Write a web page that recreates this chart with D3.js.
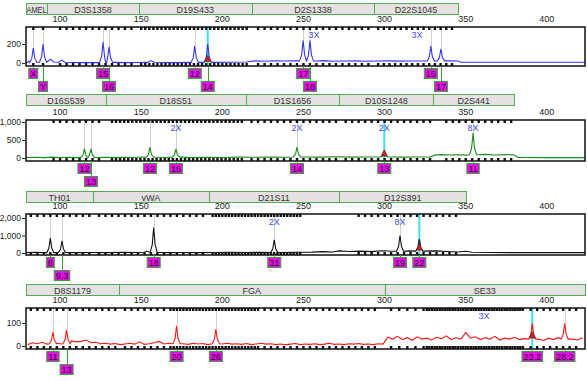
<!DOCTYPE html>
<html lang="en">
<head>
<meta charset="UTF-8">
<title>STR profile</title>
<script src="https://d3js.org/d3.v7.min.js"></script>
<style>
  body { margin: 0; background: #fff; }
  svg text { font-family: "Liberation Sans", Arial, sans-serif; }
</style>
</head>
<body>
<div id="my_dataviz"></div>
<script>
var sizeTicks = [100, 150, 200, 250, 300, 350, 400];

// blue dye
var loci1 = [["AMEL", 79, 92], ["D3S1358", 92, 148.6], ["D19S433", 148.6, 218], ["D2S1338", 218, 293.7], ["D22S1045", 293.7, 345]];
var peaks1 = [[83.5, 158, "X", 1], [89.5, 200, "Y", 2], [126.5, 220, "15", 1], [130.2, 170, "16", 2], [183, 180, "12", 1], [191, 200, "14", 2], [249.8, 240, "17", 1], [254, 240, "18", 2], [328.5, 180, "15", 1], [334.7, 150, "17", 2]];
var base1 = [[79, 0], [81, 18], [85, 5], [88, 8], [92, 10], [94, 40], [96, 10], [99, 8], [101, 30], [103, 8], [108, 5], [115, 4], [120, 5], [124, 4], [133, 6], [140, 4], [148, 5], [154, 6], [156, 25], [158, 8], [165, 5], [172, 4], [180, 6], [186, 8], [195, 6], [205, 8], [215, 10], [220, 22], [226, 18], [232, 24], [238, 20], [244, 22], [258, 20], [263, 25], [268, 18], [275, 20], [282, 22], [288, 18], [295, 20], [302, 22], [308, 19], [315, 21], [322, 20], [340, 22], [345, 20], [347, 8], [360, 7], [380, 7], [400, 7], [423.5, 7]];
var marks1 = [[256.5, "3X"], [320, "3X"]];
var bins1 = [[83.5, 89.5, 6], [100, 146, 4], [150, 216, 2.5], [222, 290, 4], [296, 342, 3.5]];
var yTicks1 = [0, 200];

// green dye
var loci2 = [["D16S539", 79, 128.3], ["D18S51", 128.3, 214.4], ["D1S1656", 214.4, 272.2], ["D10S1248", 272.2, 330], ["D2S441", 330, 380]];
var peaks2 = [[115, 250, "12", 1], [119, 250, "13", 2], [155.4, 300, "12", 1], [171.4, 250, "16", 1], [246, 300, "14", 1], [299.8, 150, "13", 1], [354.5, 690, "11", 1]];
var base2 = [[79, 10], [85, 20], [90, 10], [95, 25], [100, 15], [105, 20], [110, 10], [122, 15], [128, 20], [135, 10], [140, 20], [145, 15], [150, 30], [160, 20], [165, 15], [175, 25], [180, 10], [190, 20], [200, 15], [210, 25], [220, 20], [230, 30], [240, 20], [250, 30], [260, 25], [270, 35], [280, 25], [290, 30], [305, 30], [310, 25], [320, 30], [328, 30], [331, 80], [335, 95], [340, 85], [345, 90], [350, 80], [358, 90], [362, 100], [368, 85], [375, 95], [380, 85], [382, 15], [400, 10], [423.5, 10]];
var marks2 = [[171.4, "2X"], [246, "2X"], [299.8, "2X"], [354.5, "8X"]];
var bins2 = [[96, 126, 4], [132, 212, 2.5], [218, 270, 4], [276, 328, 4], [338, 378, 4]];
var yTicks2 = [0, 500, 1000];

// black dye
var loci3 = [["TH01", 79, 120.3], ["vWA", 120.3, 191.6], ["D21S11", 191.6, 272], ["D12S391", 272, 350.3]];
var peaks3 = [[94, 850, "8", 1], [101.2, 700, "9.3", 2], [157.7, 1450, "18", 1], [232, 750, "31", 1], [309.5, 1000, "19", 1], [321.4, 800, "22", 1]];
var base3 = [[79, 20], [85, 40], [90, 20], [100, 30], [110, 20], [120, 30], [130, 20], [140, 40], [148, 30], [152, 40], [153.5, 110], [155, 40], [165, 20], [175, 30], [185, 20], [195, 30], [205, 40], [215, 30], [225, 40], [235, 30], [245, 40], [255, 50], [262, 80], [268, 60], [272, 120], [278, 90], [285, 110], [292, 80], [298, 130], [305, 100], [315, 120], [325, 110], [332, 120], [338, 90], [345, 60], [350, 100], [354, 40], [365, 30], [380, 20], [400, 20], [423.5, 20]];
var marks3 = [[232, "2X"], [309.5, "8X"]];
var bins3 = [[82, 118, 4], [124, 188, 4], [194, 248, 2], [284, 346, 4]];
var yTicks3 = [0, 1000, 2000];

// red dye, baseline sampled every 3 bp from 80
var loci4 = [["D8S1179", 79, 136.3], ["FGA", 136.3, 300], ["SE33", 300, 423.5]];
var peaks4 = [[95.6, 60, "11", 1], [104, 70, "13", 2], [171.8, 88, "20", 1], [196, 74, "26", 1], [391, 98, "23.2", 1], [411, 98, "28.2", 1]];
var base4Values = [6, 14, 10, 16, 8, 10, 12, 9, 10, 22, 18, 20, 26, 14, 16, 10, 12, 8, 11, 6, 9, 12, 8, 18, 7, 10, 14, 20, 9, 12, 6, 10, 10, 7, 12, 9, 11, 6, 10, 10, 9, 12, 8, 10, 7, 11, 6, 9, 12, 8, 10, 6, 9, 5, 8, 11, 6, 9, 7, 10, 6, 8, 12, 7, 9, 6, 10, 8, 11, 7, 9, 6, 10, 8,
  38, 30, 42, 28, 36, 25, 40, 30, 34, 26, 38, 32, 44, 28, 36, 30, 58, 34, 40, 28, 36, 30, 42, 26, 34, 30, 38, 28, 32, 26, 30, 30, 24, 34, 28, 36, 30, 40, 30, 26, 36];
var marks4 = [[361.3, "3X"]];
var bins4 = [[82, 134, 4], [140, 168, 4], [170, 222, 2], [226, 296, 4], [304, 324, 5], [326, 386, 1.6], [390, 420, 4]];
var yTicks4 = [0, 100];

var base4 = base4Values.map(function(v, i) { return [80 + 3 * i, v]; });

var panels = [
  {loci: loci1, peaks: peaks1, base: base1, marks: marks1, bins: bins1, ticks: yTicks1, ydom: [-32, 379], color: "#3434ee", sel: 191, barTop: 3, top: 27, bottom: 66},
  {loci: loci2, peaks: peaks2, base: base2, marks: marks2, bins: bins2, ticks: yTicks2, ydom: [-83, 1055], color: "#1c8c1c", sel: 299.8, barTop: 94, top: 120, bottom: 161},
  {loci: loci3, peaks: peaks3, base: base3, marks: marks3, bins: bins3, ticks: yTicks3, ydom: [-114, 2229], color: "#111111", sel: 321.4, barTop: 191, top: 214, bottom: 255},
  {loci: loci4, peaks: peaks4, base: base4, marks: marks4, bins: bins4, ticks: yTicks4, ydom: [-13, 165], color: "#f01818", sel: 391, barTop: 284, top: 308, bottom: 349}
];

var width = 587, height = 381;

var svg = d3.select("#my_dataviz")
  .append("svg")
  .attr("width", width)
  .attr("height", height);

var x = d3.scaleLinear().domain([79, 423.5]).range([26, 585]);

function nearestBase(base, pos) {
  var best = base[0];
  base.forEach(function(b) { if (Math.abs(b[0] - pos) < Math.abs(best[0] - pos)) best = b; });
  return best[1];
}

panels.forEach(function(p, pi) {
  var g = svg.append("g");
  var y = d3.scaleLinear().domain(p.ydom).range([p.bottom, p.top]);

  // locus bar
  g.selectAll("rect.locus").data(p.loci).enter().append("rect")
    .attr("x", function(d) { return Math.round(x(d[1])) + 0.5; })
    .attr("y", p.barTop + 0.5)
    .attr("width", function(d) { return Math.round(x(d[2])) - Math.round(x(d[1])); })
    .attr("height", 11)
    .attr("fill", "#e3e1e1")
    .attr("stroke", "#55ab55");
  g.selectAll("text.locus").data(p.loci).enter().append("text")
    .attr("x", function(d) { return (x(d[1]) + x(d[2])) / 2; })
    .attr("y", p.barTop + 9.5)
    .attr("text-anchor", "middle")
    .attr("font-size", "9px")
    .attr("fill", "#333")
    .text(function(d) { return d[0]; })
    .each(function(d) {
      var room = x(d[2]) - x(d[1]) - 1;
      if (this.getComputedTextLength() > room) {
        d3.select(this).attr("textLength", room).attr("lengthAdjust", "spacingAndGlyphs");
      }
    });

  // size labels
  g.selectAll("text.size").data(sizeTicks).enter().append("text")
    .attr("x", function(d) { return x(d); })
    .attr("y", p.top - 5)
    .attr("text-anchor", "middle")
    .attr("font-size", "9px")
    .attr("fill", "#222")
    .text(function(d) { return d; });

  var clipId = "clip" + pi;
  svg.append("clipPath").attr("id", clipId).append("rect")
    .attr("x", 26).attr("y", p.top).attr("width", 559).attr("height", p.bottom - p.top);

  // grey allele lines
  g.selectAll("line.allele").data(p.peaks.filter(function(d) { return d[0] !== p.sel; })).enter().append("line")
    .attr("x1", function(d) { return Math.round(x(d[0])) + 0.5; })
    .attr("x2", function(d) { return Math.round(x(d[0])) + 0.5; })
    .attr("y1", p.top)
    .attr("y2", function(d) { return y(d[1]); })
    .attr("stroke", "#cfcfcf");

  // cyan marker line
  g.append("line")
    .attr("x1", x(p.sel)).attr("x2", x(p.sel))
    .attr("y1", p.top).attr("y2", p.bottom)
    .attr("stroke", "#3fe0ee").attr("stroke-width", 2);

  // bin marks
  var bins = [];
  p.bins.forEach(function(b) { bins = bins.concat(d3.range(b[0], b[1] + 0.01, b[2])); });
  g.selectAll("rect.bintop").data(bins).enter().append("rect")
    .attr("x", function(d) { return x(d) - 1.2; })
    .attr("y", p.top)
    .attr("width", 2.4).attr("height", 3)
    .attr("fill", "#111");
  g.selectAll("rect.binbot").data(bins).enter().append("rect")
    .attr("x", function(d) { return x(d) - 1.2; })
    .attr("y", p.bottom - 3)
    .attr("width", 2.4).attr("height", 3)
    .attr("fill", "#111");

  // trace
  var pts = p.base.filter(function(b) {
    return !p.peaks.some(function(pk) { return Math.abs(pk[0] - b[0]) < 2.4; });
  });
  p.peaks.forEach(function(pk) {
    var b = nearestBase(p.base, pk[0]);
    var s = b + 0.3 * (pk[1] - b);
    pts.push([pk[0] - 2.2, b], [pk[0] - 0.9, s], [pk[0], pk[1]], [pk[0] + 0.9, s], [pk[0] + 2.2, b]);
  });
  pts.sort(function(a, b) { return a[0] - b[0]; });
  g.append("path")
    .datum(pts)
    .attr("clip-path", "url(#" + clipId + ")")
    .attr("fill", "none")
    .attr("stroke", p.color)
    .attr("stroke-width", 1.1)
    .attr("d", d3.line().x(function(d) { return x(d[0]); }).y(function(d) { return y(d[1]); }));

  // selected peak triangle
  var tb = y(nearestBase(p.base, p.sel));
  var tx = x(p.sel);
  g.append("path")
    .attr("d", "M" + (tx - 3) + "," + (tb - 1) + "L" + (tx + 3) + "," + (tb - 1) + "L" + tx + "," + (tb - 7) + "Z")
    .attr("fill", "#e02020").attr("stroke", "#602020").attr("stroke-width", 0.8);

  // frame
  g.append("rect")
    .attr("x", 26).attr("y", p.top)
    .attr("width", 559).attr("height", p.bottom - p.top)
    .attr("fill", "none").attr("stroke", "#111").attr("stroke-width", 1.5);

  // y axis
  var ax = g.append("g")
    .attr("transform", "translate(25,0)")
    .call(d3.axisLeft(y).tickValues(p.ticks).tickSize(3).tickPadding(1).tickFormat(d3.format(",")));
  ax.select(".domain").remove();
  ax.selectAll("text").attr("font-size", "8.5px").attr("font-family", null).attr("fill", "#222");
  ax.selectAll("line").attr("stroke", "#222");

  // scale factor marks
  g.selectAll("text.mark").data(p.marks).enter().append("text")
    .attr("x", function(d) { return x(d[0]); })
    .attr("y", p.top + 11)
    .attr("text-anchor", "middle")
    .attr("font-size", "9px")
    .attr("fill", "#4848e0")
    .text(function(d) { return d[1]; });

  // allele labels
  var lab = g.selectAll("g.lab").data(p.peaks).enter().append("g");
  lab.append("line")
    .attr("x1", function(d) { return Math.round(x(d[0])) + 0.5; })
    .attr("x2", function(d) { return Math.round(x(d[0])) + 0.5; })
    .attr("y1", p.bottom)
    .attr("y2", function(d) { return d[3] === 1 ? p.bottom + 2 : p.bottom + 15; })
    .attr("stroke", "#3aa03a");
  lab.append("rect").attr("class", "box");
  lab.append("text")
    .attr("x", function(d) { return x(d[0]); })
    .attr("y", function(d) { return (d[3] === 1 ? p.bottom + 2 : p.bottom + 15) + 8.5; })
    .attr("text-anchor", "middle")
    .attr("font-size", "9px")
    .attr("fill", "#3a0040")
    .text(function(d) { return d[2]; });
  lab.each(function(d) {
    var t = d3.select(this).select("text");
    var w = t.node().getComputedTextLength() + 3;
    d3.select(this).select("rect")
      .attr("x", x(d[0]) - w / 2)
      .attr("y", (d[3] === 1 ? p.bottom + 2 : p.bottom + 15) + 0.5)
      .attr("width", w).attr("height", 10)
      .attr("fill", "#e014e0").attr("stroke", "#3aa03a");
  });
});
</script>
</body>
</html>
